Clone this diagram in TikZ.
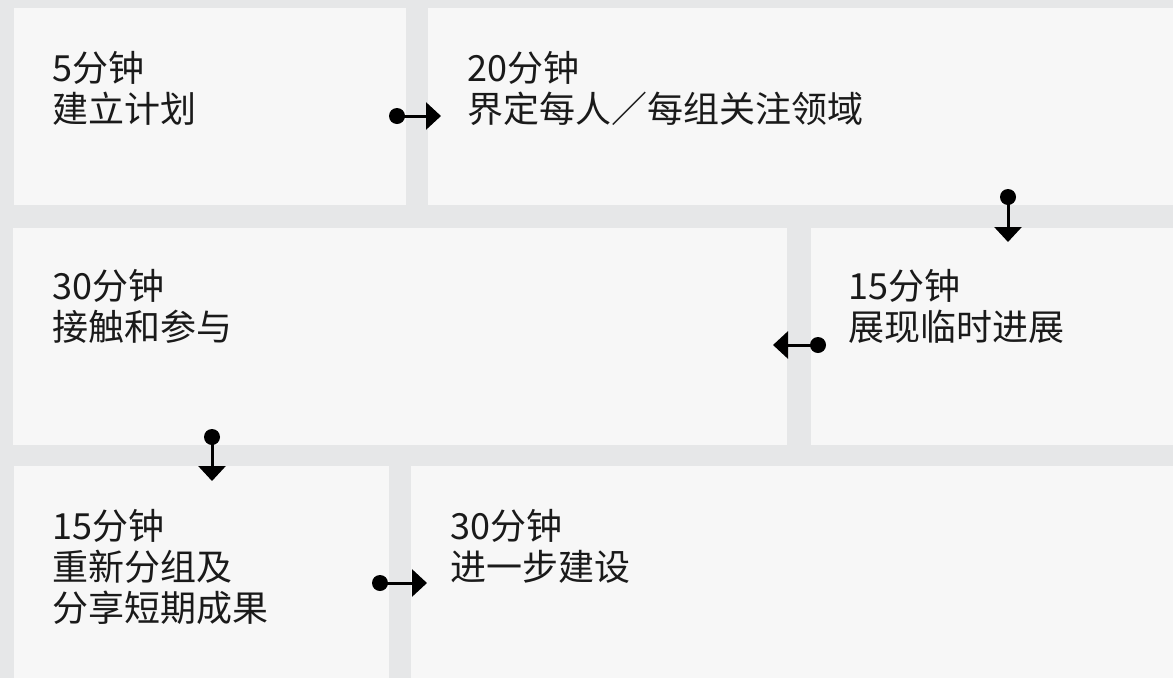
\documentclass[tikz,border=0pt]{standalone}
\usepackage{fontspec}
\setmainfont{Noto Sans CJK SC}
\usetikzlibrary{arrows.meta}
\definecolor{bgc}{HTML}{E6E7E8}
\definecolor{boxc}{HTML}{F7F7F7}
\definecolor{txt}{HTML}{1A1A1A}
\tikzset{
  panel/.style={fill=boxc, draw=none, inner sep=0pt, anchor=north west},
  label/.style={anchor=north west, inner sep=0pt, text=txt, align=left,
    font=\fontsize{36pt}{41pt}\selectfont},
  conn/.style={line width=3pt, -{Triangle[length=15pt,width=27pt]}},
  dotc/.style={circle, fill=black, inner sep=0pt, minimum size=16pt}
}
\begin{document}
\begin{tikzpicture}[x=1pt,y=-1pt]
\fill[bgc] (0,0) rectangle (1173,678);
\useasboundingbox (0,0) rectangle (1173,678);
% panels
\node[panel, minimum width=392pt, minimum height=197pt] (pA) at (14,8) {};
\node[panel, minimum width=745pt, minimum height=197pt] (pB) at (428,8) {};
\node[panel, minimum width=774pt, minimum height=217pt] (pC) at (13,228) {};
\node[panel, minimum width=362pt, minimum height=217pt] (pD) at (811,228) {};
\node[panel, minimum width=375pt, minimum height=212pt] (pE) at (14,466) {};
\node[panel, minimum width=762pt, minimum height=212pt] (pF) at (411,466) {};
% texts
\node[label] (tA) at (52,51) {5分钟\\建立计划};
\node[label] (tB) at (467,51) {20分钟\\界定每人／每组关注领域};
\node[label] (tC) at (52,269) {30分钟\\接触和参与};
\node[label] (tD) at (848,269) {15分钟\\展现临时进展};
\node[label] (tE) at (52,509) {15分钟\\重新分组及\\分享短期成果};
\node[label] (tF) at (450,509) {30分钟\\进一步建设};
% connectors
\node[dotc] (d1) at (397,116) {};
\coordinate (e1) at (441,116);
\node[dotc] (d2) at (1008,197) {};
\coordinate (e2) at (1008,242);
\node[dotc] (d3) at (818,345) {};
\coordinate (e3) at (773,345);
\node[dotc] (d4) at (212,437) {};
\coordinate (e4) at (212,481);
\node[dotc] (d5) at (380,583) {};
\coordinate (e5) at (427,583);
\draw[conn] (d1.center) -- (e1);
\draw[conn] (d2.center) -- (e2);
\draw[conn] (d3.center) -- (e3);
\draw[conn] (d4.center) -- (e4);
\draw[conn] (d5.center) -- (e5);
\end{tikzpicture}
\end{document}
